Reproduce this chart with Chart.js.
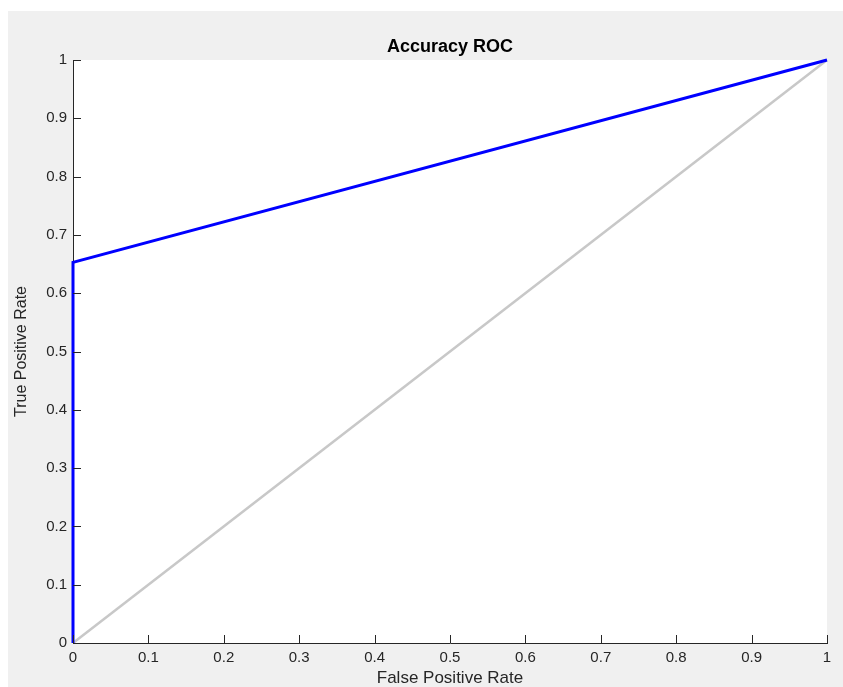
<!DOCTYPE html>
<html>
<head>
<meta charset="utf-8">
<script src="https://cdn.jsdelivr.net/npm/chart.js@4.4.0/dist/chart.umd.min.js"></script>
<style>
  html, body { margin: 0; padding: 0; background: #ffffff; }
  #wrap { width: 843px; height: 687px; }
</style>
</head>
<body>
<div id="wrap"><canvas id="RocChart" width="843" height="687"></canvas></div>
<script>
// ROC points
var fprValues = [0, 0, 1];
var tprValues = [0, 0.653, 1];
// chance line
var chanceFpr = [0, 1];
var chanceTpr = [0, 1];
var tickValues = [0, 0.1, 0.2, 0.3, 0.4, 0.5, 0.6, 0.7, 0.8, 0.9, 1];

var fontFamily = '"Liberation Sans", Arial, Helvetica, sans-serif';
var axisColor = '#262626';

function toPoints(xs, ys) {
    var pts = [];
    for (var i = 0; i < xs.length; i++) {
        pts.push({ x: xs[i], y: ys[i] });
    }
    return pts;
}

// grey figure background + white axes area
var backgroundPlugin = {
    id: 'matlabBackground',
    beforeDraw: function (chart) {
        var ctx = chart.ctx;
        var a = chart.chartArea;
        ctx.save();
        ctx.fillStyle = '#ffffff';
        ctx.fillRect(0, 0, chart.width, chart.height);
        ctx.fillStyle = '#f0f0f0';
        ctx.fillRect(8, 11, chart.width - 8, chart.height - 11);
        ctx.fillStyle = '#ffffff';
        ctx.fillRect(a.left, a.top, a.right - a.left, a.bottom - a.top);
        ctx.restore();
    }
};

// tick marks pointing into the plot, like MATLAB
var innerTicksPlugin = {
    id: 'innerTicks',
    afterDatasetsDraw: function (chart) {
        var ctx = chart.ctx;
        var xs = chart.scales.x;
        var ys = chart.scales.y;
        var a = chart.chartArea;
        var len = 8;
        ctx.save();
        ctx.strokeStyle = axisColor;
        ctx.lineWidth = 1;
        ctx.beginPath();
        xs.ticks.forEach(function (t) {
            var px = Math.round(xs.getPixelForValue(t.value)) + 0.5;
            ctx.moveTo(px, a.bottom);
            ctx.lineTo(px, a.bottom - len);
        });
        ys.ticks.forEach(function (t) {
            var py = Math.round(ys.getPixelForValue(t.value)) + 0.5;
            ctx.moveTo(a.left, py);
            ctx.lineTo(a.left + len, py);
        });
        ctx.stroke();
        ctx.restore();
    }
};

var ctx = document.getElementById('RocChart').getContext('2d');

var RocChart = new Chart(ctx, {
    type: 'scatter',
    data: {
        datasets: [{
            label: 'ROC',
            data: toPoints(fprValues, tprValues),
            showLine: true,
            borderColor: '#0000ff',
            borderWidth: 3,
            pointRadius: 0,
            fill: false,
            tension: 0,
            clip: false
        }, {
            label: 'Chance',
            data: toPoints(chanceFpr, chanceTpr),
            showLine: true,
            borderColor: '#c8c8c8',
            borderWidth: 2.5,
            pointRadius: 0,
            fill: false,
            tension: 0,
            clip: false
        }]
    },
    options: {
        responsive: false,
        animation: false,
        layout: {
            padding: { left: 0, right: 16, top: 0, bottom: 0 }
        },
        plugins: {
            legend: { display: false },
            tooltip: { enabled: false },
            title: {
                display: true,
                fullSize: false,
                text: 'Accuracy ROC',
                color: '#000000',
                font: { family: fontFamily, size: 18, weight: 'bold', lineHeight: 1 },
                padding: { top: 38, bottom: 4 }
            }
        },
        scales: {
            x: {
                type: 'linear',
                min: 0,
                max: 1,
                afterBuildTicks: function (scale) {
                    scale.ticks = tickValues.map(function (v) { return { value: v }; });
                },
                afterFit: function (scale) { scale.height = 44; },
                grid: { display: false, drawTicks: false },
                border: { display: true, color: axisColor, width: 1 },
                ticks: {
                    color: axisColor,
                    padding: 6,
                    maxRotation: 0,
                    font: { family: fontFamily, size: 15 },
                    callback: function (v) { return String(+v.toFixed(1)); }
                },
                title: {
                    display: true,
                    text: 'False Positive Rate',
                    color: axisColor,
                    font: { family: fontFamily, size: 17, lineHeight: 1 },
                    padding: { top: 0, bottom: 0 }
                }
            },
            y: {
                type: 'linear',
                min: 0,
                max: 1,
                afterBuildTicks: function (scale) {
                    scale.ticks = tickValues.map(function (v) { return { value: v }; });
                },
                afterFit: function (scale) { scale.width = 73; },
                grid: { display: false, drawTicks: false },
                border: { display: true, color: axisColor, width: 1 },
                ticks: {
                    color: axisColor,
                    padding: 6,
                    font: { family: fontFamily, size: 15 },
                    callback: function (v) { return String(+v.toFixed(1)); }
                },
                title: {
                    display: true,
                    text: 'True Positive Rate',
                    color: axisColor,
                    font: { family: fontFamily, size: 16, lineHeight: 1 },
                    padding: { top: 14, bottom: 0 }
                }
            }
        }
    },
    plugins: [backgroundPlugin, innerTicksPlugin]
});
</script>
</body>
</html>
